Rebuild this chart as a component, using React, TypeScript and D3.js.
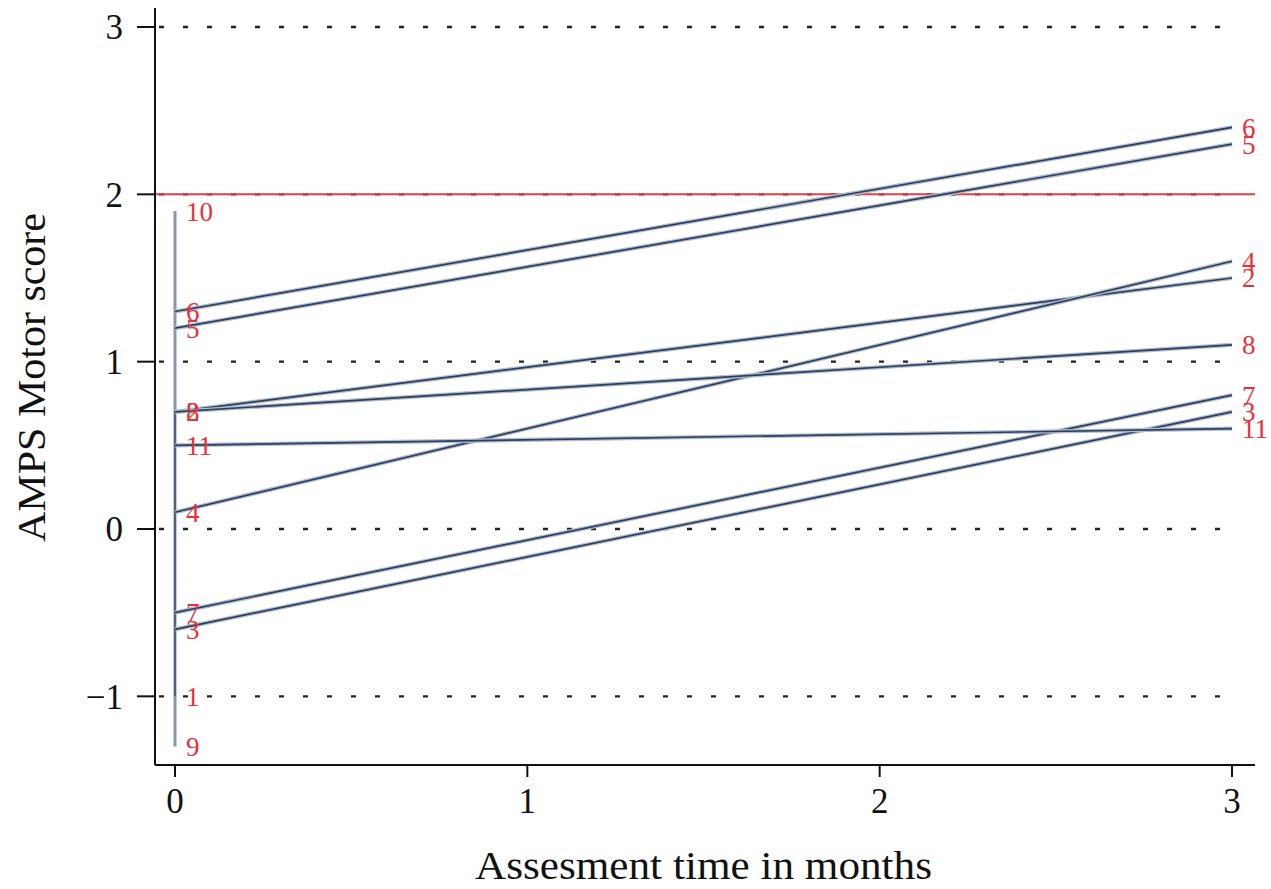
import React, { useEffect, useRef } from "react";
import * as d3 from "d3";

// patient ids and AMPS motor scores at baseline (0) and 3 months
const patients = ["1", "2", "3", "4", "5", "6", "7", "8", "9", "10", "11"];
const baseline = [-1.0, 0.7, -0.6, 0.1, 1.2, 1.3, -0.5, 0.7, -1.3, 1.9, 0.5];
const followUp: (number | null)[] = [null, 1.5, 0.7, 1.6, 2.3, 2.4, 0.8, 1.1, null, null, 0.6];
const times = [0, 3];
const xTicks = [0, 1, 2, 3];
const yTicks = [-1, 0, 1, 2, 3];
const cutoff = 2;

const App = () => {
  const svgRef = useRef<SVGSVGElement | null>(null);

  useEffect(() => {
    const width = 1271;
    const height = 889;
    const left = 155;
    const bottom = 765;
    const right = 1255;

    const x = d3.scaleLinear().domain([0, 3]).range([175, 1232]);
    const y = d3.scaleLinear().domain([0, 3]).range([529, 27]);

    const svg = d3
      .select(svgRef.current)
      .attr("viewBox", [0, 0, width, height])
      .attr("width", width)
      .attr("height", height)
      .style("font-family", "'Liberation Serif', 'DejaVu Serif', serif");

    svg.selectAll("*").remove();

    // dotted grid
    svg
      .append("g")
      .selectAll("line")
      .data(yTicks)
      .join("line")
      .attr("x1", left + 4)
      .attr("x2", 1238)
      .attr("y1", (d) => y(d))
      .attr("y2", (d) => y(d))
      .attr("stroke", "#222")
      .attr("stroke-width", 2.4)
      .attr("stroke-dasharray", "5 19");

    // cutoff line
    svg
      .append("line")
      .attr("x1", left)
      .attr("x2", right)
      .attr("y1", y(cutoff))
      .attr("y2", y(cutoff))
      .attr("stroke", "#e0404a")
      .attr("stroke-width", 2);

    // vertical line through baseline values
    svg
      .append("line")
      .attr("x1", x(0))
      .attr("x2", x(0))
      .attr("y1", y(d3.max(baseline)!))
      .attr("y2", y(d3.min(baseline)!))
      .attr("stroke", "#8a98ad")
      .attr("stroke-width", 3);
    svg
      .append("line")
      .attr("x1", x(0))
      .attr("x2", x(0))
      .attr("y1", y(0.7))
      .attr("y2", y(-1.0))
      .attr("stroke", "#34496a")
      .attr("stroke-width", 1.4);

    const pairs = patients
      .map((id, i) => ({ id, a: baseline[i], b: followUp[i] }))
      .filter((d) => d.b !== null);

    const line = d3
      .line<number>()
      .x((_, i) => x(times[i]))
      .y((d) => y(d));

    const g = svg.append("g");
    pairs.forEach((p) => {
      g.append("path")
        .attr("d", line([p.a, p.b as number]))
        .attr("stroke", "#b4bdcb")
        .attr("stroke-width", 4.2)
        .attr("fill", "none");
      g.append("path")
        .attr("d", line([p.a, p.b as number]))
        .attr("stroke", "#2a3f60")
        .attr("stroke-width", 1.7)
        .attr("fill", "none");
    });

    // labels
    const labels = svg.append("g").attr("fill", "#e8303a").attr("font-size", 27);
    labels
      .selectAll("text.l")
      .data(patients)
      .join("text")
      .attr("class", "l")
      .attr("x", x(0) + 11)
      .attr("y", (_, i) => y(baseline[i]))
      .attr("dy", "0.35em")
      .text((d) => d);
    labels
      .selectAll("text.r")
      .data(pairs)
      .join("text")
      .attr("class", "r")
      .attr("x", x(3) + 10)
      .attr("y", (d) => y(d.b as number))
      .attr("dy", "0.35em")
      .text((d) => d.id);

    // axes
    svg
      .append("line")
      .attr("x1", left)
      .attr("x2", left)
      .attr("y1", 8)
      .attr("y2", bottom)
      .attr("stroke", "#111")
      .attr("stroke-width", 2);
    svg
      .append("line")
      .attr("x1", left)
      .attr("x2", right)
      .attr("y1", bottom)
      .attr("y2", bottom)
      .attr("stroke", "#111")
      .attr("stroke-width", 2);

    const yAx = svg.append("g");
    yAx
      .selectAll("line")
      .data(yTicks)
      .join("line")
      .attr("x1", 137)
      .attr("x2", left)
      .attr("y1", (d) => y(d))
      .attr("y2", (d) => y(d))
      .attr("stroke", "#111")
      .attr("stroke-width", 2);
    yAx
      .selectAll("text")
      .data(yTicks)
      .join("text")
      .attr("x", 123)
      .attr("y", (d) => y(d))
      .attr("dy", "0.35em")
      .attr("text-anchor", "end")
      .attr("font-size", 35)
      .attr("fill", "#111")
      .text((d) => (d < 0 ? `\u2212${-d}` : `${d}`));

    const xAx = svg.append("g");
    xAx
      .selectAll("line")
      .data(xTicks)
      .join("line")
      .attr("x1", (d) => x(d))
      .attr("x2", (d) => x(d))
      .attr("y1", bottom)
      .attr("y2", bottom + 12)
      .attr("stroke", "#111")
      .attr("stroke-width", 2);
    xAx
      .selectAll("text")
      .data(xTicks)
      .join("text")
      .attr("x", (d) => x(d))
      .attr("y", 813)
      .attr("text-anchor", "middle")
      .attr("font-size", 35)
      .attr("fill", "#111")
      .text((d) => `${d}`);

    svg
      .append("text")
      .attr("x", 475)
      .attr("y", 879)
      .attr("font-size", 39)
      .attr("textLength", 457)
      .attr("lengthAdjust", "spacingAndGlyphs")
      .attr("fill", "#111")
      .text("Assesment time in months");

    svg
      .append("text")
      .attr("transform", `translate(45,542) rotate(-90)`)
      .attr("font-size", 40)
      .attr("textLength", 329)
      .attr("lengthAdjust", "spacingAndGlyphs")
      .attr("fill", "#111")
      .text("AMPS Motor score");
  }, []);

  return (
    <div style={{ position: "absolute", left: 0, top: 0, background: "#fff" }}>
      <svg ref={svgRef}></svg>
    </div>
  );
};

export default App;
